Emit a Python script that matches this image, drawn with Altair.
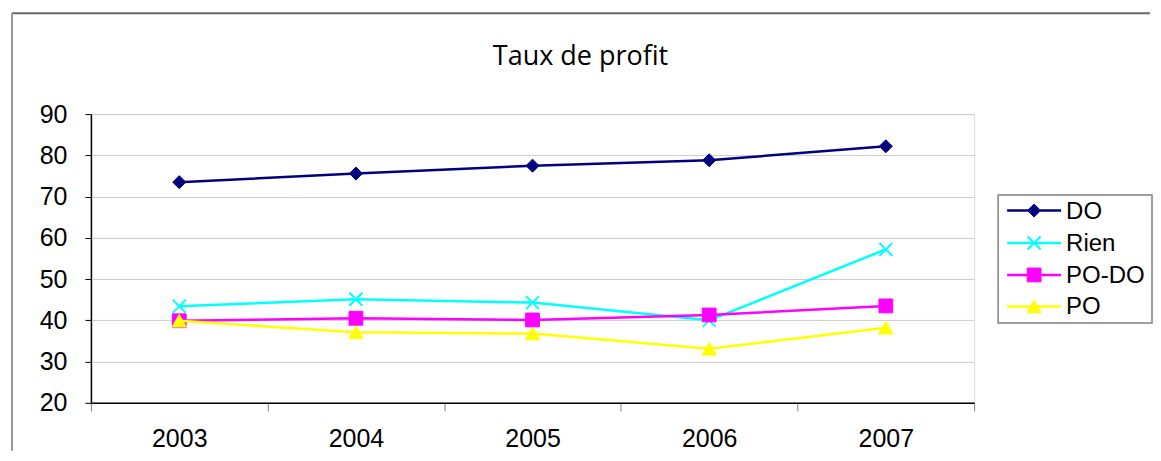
import altair as alt
import pandas as pd

years = [2003, 2004, 2005, 2006, 2007]
series = ["DO", "Rien", "PO-DO", "PO"]
do_vals = [73.5, 75.6, 77.5, 78.8, 82.2]
rien_vals = [43.4, 45.1, 44.3, 40.0, 57.2]
podo_vals = [39.9, 40.5, 40.1, 41.3, 43.5]
po_vals = [39.9, 37.1, 36.8, 33.1, 38.2]
colors = ["#000080", "#00FFFF", "#FF00FF", "#FFFF00"]
shapes = ["diamond", "M-1,-1L1,1M-1,1L1,-1", "square", "triangle-up"]
sizes = [170, 170, 190, 210]
stroke_widths = [1, 2, 1, 1]
title_text = "Taux de profit"
y_ticks = [20, 30, 40, 50, 60, 70, 80, 90]
x_axis_values = [2002.5, 2003, 2003.5, 2004, 2004.5, 2005, 2005.5, 2006, 2006.5, 2007, 2007.5]

values = {"DO": do_vals, "Rien": rien_vals, "PO-DO": podo_vals, "PO": po_vals}
rows = []
for s in series:
    for yr, v in zip(years, values[s]):
        rows.append({"year": yr, "value": v, "series": s})
df = pd.DataFrame(rows)
dummy = pd.DataFrame({"a": [0]})

x_enc = alt.X(
    "year:Q",
    scale=alt.Scale(domain=[2002.5, 2007.5], nice=False, zero=False),
    axis=alt.Axis(
        values=x_axis_values,
        title=None,
        grid=False,
        labelExpr="datum.value % 1 == 0 ? format(datum.value, 'd') : ''",
        labelOverlap=False,
        tickSize=8,
        tickColor="#808080",
        tickOpacity={"condition": {"test": "datum.value % 1 == 0", "value": 0}, "value": 1},
        labelPadding=16,
        labelFont="Liberation Sans",
        labelFontSize=25,
        labelColor="black",
        domainColor="black",
        domainWidth=1.5,
    ),
)
y_enc = alt.Y(
    "value:Q",
    scale=alt.Scale(domain=[20, 90], nice=False, zero=False),
    axis=alt.Axis(
        values=y_ticks,
        title=None,
        grid=True,
        gridColor="#cccccc",
        gridWidth=1,
        tickSize=6,
        tickColor="black",
        labelPadding=18,
        labelFont="Liberation Sans",
        labelFontSize=25,
        labelColor="black",
        domainColor="black",
        domainWidth=1.5,
    ),
)

layers = []
for s, c, sh, sz, sw in zip(series, colors, shapes, sizes, stroke_widths):
    sub = df[df["series"] == s]
    layers.append(
        alt.Chart(sub).mark_line(color=c, strokeWidth=2.5).encode(x=x_enc, y=y_enc)
    )
    layers.append(
        alt.Chart(sub)
        .mark_point(shape=sh, size=sz, filled=True, fill=c, stroke=c, strokeWidth=sw, opacity=1)
        .encode(x=x_enc, y=y_enc)
    )

# outer frame lines
frame_top = alt.Chart(dummy).mark_rule(color="#666666", strokeWidth=2).encode(
    x=alt.value(-79), x2=alt.value(1060), y=alt.value(-101)
)
frame_left = alt.Chart(dummy).mark_rule(color="#999999", strokeWidth=2).encode(
    x=alt.value(-79), y=alt.value(-101), y2=alt.value(337)
)

# title
title = alt.Chart(dummy).mark_text(
    text=title_text, font="Open Sans", fontSize=27, align="center", baseline="alphabetic", color="black"
).encode(x=alt.value(490), y=alt.value(-49))

# legend
legend_box = alt.Chart(dummy).mark_rect(fill="white", stroke="#808080", strokeWidth=1.5).encode(
    x=alt.value(908), x2=alt.value(1062), y=alt.value(81), y2=alt.value(209)
)
legend_layers = [legend_box]
leg_y = [96.5, 129, 161, 192.5]
for s, c, sh, sz, sw, ly in zip(series, colors, shapes, sizes, stroke_widths, leg_y):
    legend_layers.append(
        alt.Chart(dummy).mark_rule(color=c, strokeWidth=2.5).encode(
            x=alt.value(917), x2=alt.value(971), y=alt.value(ly)
        )
    )
    legend_layers.append(
        alt.Chart(dummy)
        .mark_point(shape=sh, size=sz, filled=True, fill=c, stroke=c, strokeWidth=sw, opacity=1)
        .encode(x=alt.value(944), y=alt.value(ly))
    )
    legend_layers.append(
        alt.Chart(dummy)
        .mark_text(text=s, font="Liberation Sans", fontSize=24, align="left", baseline="middle", color="black")
        .encode(x=alt.value(976), y=alt.value(ly + 1))
    )

chart = (
    alt.layer(frame_top, frame_left, title, *layers, *legend_layers)
    .properties(width=884, height=289, padding={"left": 3, "top": 4, "right": 0, "bottom": 0})
    .configure_view(stroke="#808080", strokeWidth=2)
    .configure(background="white")
)

chart.save("out.html", embed_options={"renderer": "svg", "actions": False})
